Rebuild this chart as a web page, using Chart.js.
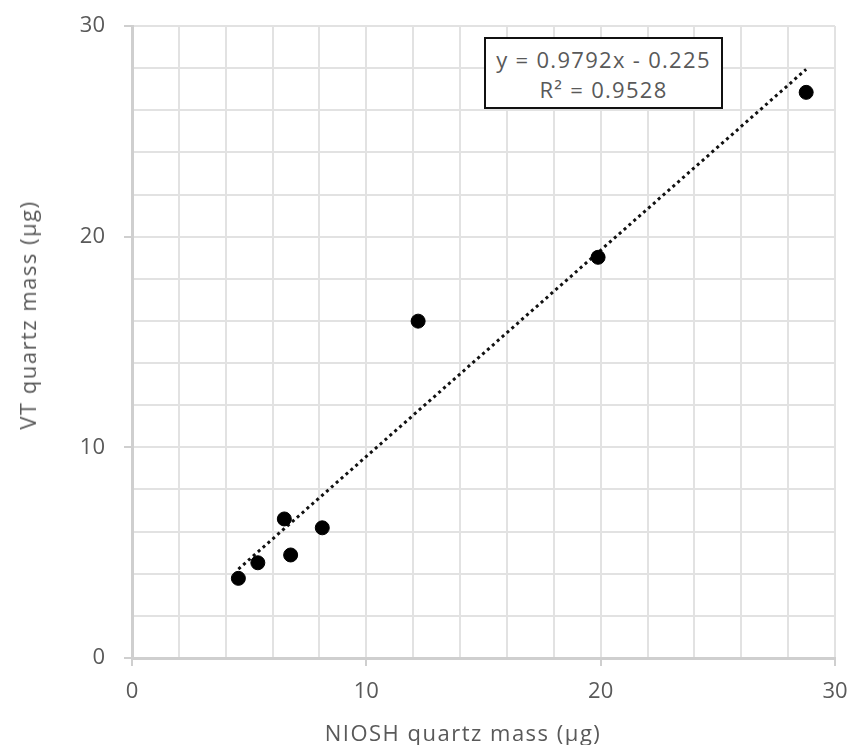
<!DOCTYPE html>
<html>
<head>
<meta charset="utf-8">
<script src="https://cdn.jsdelivr.net/npm/chart.js@4"></script>
<style>
  html, body { margin: 0; padding: 0; background: #fff; }
  #wrap { position: relative; width: 853px; height: 745px; }
  canvas { position: absolute; left: 0; top: 0; }
  .lbl { position: absolute; font-family: "Open Sans", sans-serif; color: #595959; white-space: nowrap;
         font-size: 22px; letter-spacing: 1.5px; }
  #xTitle { left: 463px; top: 732px; transform: translate(-50%, -50%); }
  #yTitle { left: 27px; top: 315px; transform: translate(-50%, -50%) rotate(-90deg); }
  #eqBox { position: absolute; left: 484px; top: 37px; width: 235px; height: 63px; padding-top: 5px;
           border: 2px solid #111; background: #fff; font-family: "Open Sans", sans-serif; color: #595959;
           font-size: 22px; letter-spacing: 1.3px; text-align: center; line-height: 30px; }
</style>
</head>
<body>
<div id="wrap">
  <canvas id="c" width="853" height="745"></canvas>
  <div class="lbl" id="xTitle">NIOSH quartz mass (µg)</div>
  <div class="lbl" id="yTitle">VT quartz mass (µg)</div>
  <div id="eqBox"><div id="eq1"></div><div id="eq2"></div></div>
</div>
<script>
// Paired quartz mass measurements (µg)
const nioshMass = [4.54, 5.37, 6.50, 6.77, 8.12, 12.21, 19.89, 28.77];
const vtMass    = [3.78, 4.52, 6.60, 4.89, 6.18, 15.99, 19.02, 26.85];

// Linear trendline coefficients
const slope = 0.9792;
const intercept = -0.225;
const rSquared = 0.9528;

const axisMin = 0, axisMax = 30, gridStep = 2, labelStep = 10;

const points = nioshMass.map((x, i) => ({ x, y: vtMass[i] }));
const xLo = Math.min(...nioshMass), xHi = Math.max(...nioshMass);
const trend = [xLo, xHi].map(x => ({ x, y: slope * x + intercept }));

document.getElementById('eq1').textContent =
  'y = ' + slope + 'x ' + (intercept < 0 ? '- ' : '+ ') + Math.abs(intercept);
document.getElementById('eq2').textContent = 'R² = ' + rSquared;

const tickFont = { family: '"Open Sans", sans-serif', size: 22 };
const gridColor = '#e2e2e2';
const axisColor = '#cfcfcf';

function axis(pos, fitSize) {
  return {
    type: 'linear',
    position: pos,
    min: axisMin, max: axisMax,
    afterFit(scale) {
      if (pos === 'left') scale.width = fitSize; else scale.height = fitSize;
      // let layout.padding alone decide the plot-area margins
      scale.paddingTop = 0;
      scale.paddingBottom = 0;
      scale.paddingLeft = 0;
      scale.paddingRight = 0;
    },
    grid: {
      color: gridColor,
      lineWidth: 2,
      tickLength: 8,
      tickColor: ctx => (ctx.tick && ctx.tick.value % labelStep === 0) ? axisColor : 'rgba(0,0,0,0)',
      tickWidth: 2
    },
    border: { color: axisColor, width: 3 },
    ticks: {
      stepSize: gridStep,
      autoSkip: false,
      maxRotation: 0,
      color: '#595959',
      font: tickFont,
      padding: pos === 'left' ? 19 : 13,
      callback: v => (v % labelStep === 0 ? v : '')
    }
  };
}

new Chart(document.getElementById('c'), {
  type: 'scatter',
  data: {
    datasets: [
      {
        label: 'Samples',
        data: points,
        backgroundColor: '#000',
        borderColor: '#000',
        pointRadius: 7,
        pointHoverRadius: 7
      },
      {
        label: 'Linear fit',
        data: trend,
        showLine: true,
        borderColor: '#111',
        borderWidth: 3,
        borderDash: [3, 3.5],
        pointRadius: 0,
        fill: false
      }
    ]
  },
  options: {
    responsive: false,
    animation: false,
    layout: { padding: { top: 26, right: 18, left: 0, bottom: 0 } },
    plugins: { legend: { display: false }, tooltip: { enabled: false } },
    scales: {
      x: axis('bottom', 87),
      y: axis('left', 132)
    }
  }
});
</script>
</body>
</html>
